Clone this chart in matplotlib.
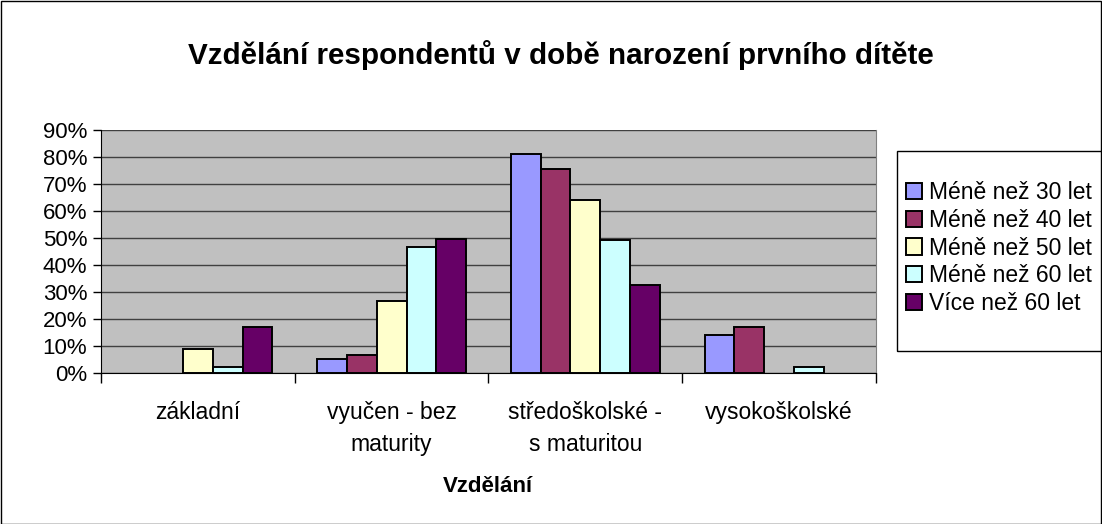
import matplotlib.pyplot as plt
import numpy as np

categories = ["základní", "vyučen - bez\nmaturity", "středoškolské -\ns maturitou", "vysokoškolské"]
series = ["Méně než 30 let", "Méně než 40 let", "Méně než 50 let", "Méně než 60 let", "Více než 60 let"]
values = [
    [0, 5.2, 81.2, 14.0],     # < 30
    [0, 6.7, 75.7, 17.0],     # < 40
    [8.8, 26.6, 63.9, 0],     # < 50
    [2.1, 46.8, 49.1, 2.1],   # < 60
    [17.1, 49.8, 32.7, 0],    # > 60
]
colors = ['#9999FF', '#993366', '#FFFFCC', '#CCFFFF', '#660066']

plt.rcParams['font.family'] = ['Liberation Sans', 'DejaVu Sans']

W, H = 1102, 524
fig = plt.figure(figsize=(W / 100, H / 100), dpi=100)
fig.patch.set_facecolor('white')
ax = fig.add_axes([101 / W, 1 - 373 / H, (876 - 101) / W, (373 - 130) / H])
ax.set_facecolor('#C0C0C0')

n = len(series)
bw = 1 / 6.5
x = np.arange(len(categories))
for i, (name, vals, c) in enumerate(zip(series, values, colors)):
    offs = (i - (n - 1) / 2) * bw
    vals = np.array(vals)
    mask = vals > 0
    ax.bar(x[mask] + offs, vals[mask], width=bw, color=c, edgecolor='black',
           linewidth=1.4, label=name, zorder=3)

ax.set_xlim(-0.5, len(categories) - 0.5)
ax.set_ylim(0, 90)
ax.set_yticks(np.arange(0, 91, 10))
ax.set_yticklabels([f"{v}%" for v in range(0, 91, 10)], fontsize=16)
ax.yaxis.grid(True, color='#404040', linewidth=1, zorder=1)
ax.set_axisbelow(True)

ax.set_xticks(x)
ax.set_xticklabels(categories, fontsize=16.5, linespacing=1.5)
ax.tick_params(axis='x', length=0, pad=20)
ax.set_xticks(np.arange(-0.5, len(categories), 1), minor=True)
ax.tick_params(axis='x', which='minor', length=7, width=1, direction='out')
ax.tick_params(axis='y', length=6, width=1, direction='out', pad=4)

ax.spines['top'].set_visible(False)
ax.spines['right'].set_color('#808080')
ax.spines['left'].set_color('black')
ax.spines['bottom'].set_color('black')

fig.text(488 / W, 1 - 487 / H, "Vzdělání", ha='center', va='center',
         fontsize=16, fontweight='bold')
fig.text(561 / W, 1 - 55 / H, "Vzdělání respondentů v době narození prvního dítěte",
         ha='center', va='center', fontsize=21.3, fontweight='bold')

# legend frame drawn separately, it runs off the right edge like in the original
fig.add_artist(plt.Rectangle((897 / W, 1 - 351 / H), (1110 - 897) / W, 200 / H,
                             transform=fig.transFigure, fill=False,
                             edgecolor='black', linewidth=1))
leg = fig.legend(loc='center left', bbox_to_anchor=(906 / W, 1 - 248 / H),
                 fontsize=16.5, frameon=False,
                 handlelength=0.7, handleheight=0.7, handletextpad=0.3,
                 labelspacing=0.2, borderaxespad=0, borderpad=0)

fig.add_artist(plt.Rectangle((0.5 / W, 0.5 / H), 1 - 1.5 / W, 1 - 1.5 / H,
                             transform=fig.transFigure, fill=False,
                             edgecolor='black', linewidth=1))

fig.savefig('out.png', dpi=100, facecolor='white')
